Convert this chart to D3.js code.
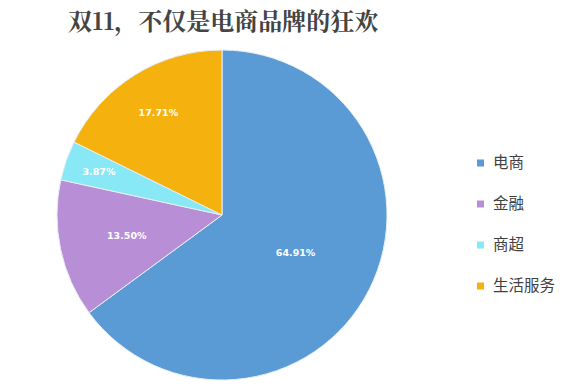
<!DOCTYPE html>
<html lang="zh">
<head>
<meta charset="utf-8">
<title>双11，不仅是电商品牌的狂欢</title>
<script src="https://d3js.org/d3.v7.js"></script>
<style>
  body { margin: 0; background: #fff; }
</style>
</head>
<body>
<svg></svg>
<script>
  const categories = ['电商', '金融', '商超', '生活服务'];
  const values = [64.91, 13.50, 3.87, 17.71];
  const colors = ['#5b9bd5', '#b88fd7', '#88e8f5', '#f5b20f'];

  // label distance from centre, as share of radius (best-fit look)
  const labelK = [0.5, 0.59, 0.79, 0.73];

  const w = 585, h = 388;
  const cx = 222, cy = 215, r = 165;

  const svg = d3.select('svg').attr('width', w).attr('height', h);

  svg.append('text')
    .attr('x', 68)
    .attr('y', 30)
    .attr('fill', '#444')
    .attr('font-family', '"Noto Serif CJK SC", "Noto Sans CJK SC", serif')
    .attr('font-weight', 'bold')
    .attr('font-size', 24)
    .text('双11，不仅是电商品牌的狂欢');

  const data = categories.map((c, i) => ({name: c, value: values[i]}));
  const pie = d3.pie().value(d => d.value).sort(null);
  const arcs = pie(data);
  const arc = d3.arc().innerRadius(0).outerRadius(r);

  const g = svg.append('g').attr('transform', `translate(${cx},${cy})`);

  g.selectAll('path')
    .data(arcs)
    .join('path')
    .attr('d', arc)
    .attr('fill', (d, i) => colors[i])
    .attr('stroke', '#e8eef5')
    .attr('stroke-width', 1);

  g.selectAll('text')
    .data(arcs)
    .join('text')
    .attr('transform', (d, i) => {
      const k = r * labelK[i];
      const p = d3.arc().innerRadius(k).outerRadius(k).centroid(d);
      return `translate(${p[0]},${p[1]})`;
    })
    .attr('text-anchor', 'middle')
    .attr('dy', '0.35em')
    .attr('fill', '#fff')
    .attr('font-family', '"DejaVu Sans", Verdana, sans-serif')
    .attr('font-weight', 'bold')
    .attr('font-size', 9.5)
    .text(d => d.data.value.toFixed(2) + '%');

  const y = d3.scalePoint().domain(categories).range([163, 286]);

  const legend = svg.append('g')
    .selectAll('g')
    .data(categories)
    .join('g')
    .attr('transform', d => `translate(477,${y(d)})`);

  legend.append('rect')
    .attr('x', 0).attr('y', -3.5)
    .attr('width', 7).attr('height', 7)
    .attr('fill', (d, i) => colors[i]);

  legend.append('text')
    .attr('x', 16)
    .attr('dy', '0.35em')
    .attr('fill', '#404040')
    .attr('font-family', '"Noto Sans CJK SC", sans-serif')
    .attr('font-size', 15.5)
    .text(d => d);
</script>
</body>
</html>
